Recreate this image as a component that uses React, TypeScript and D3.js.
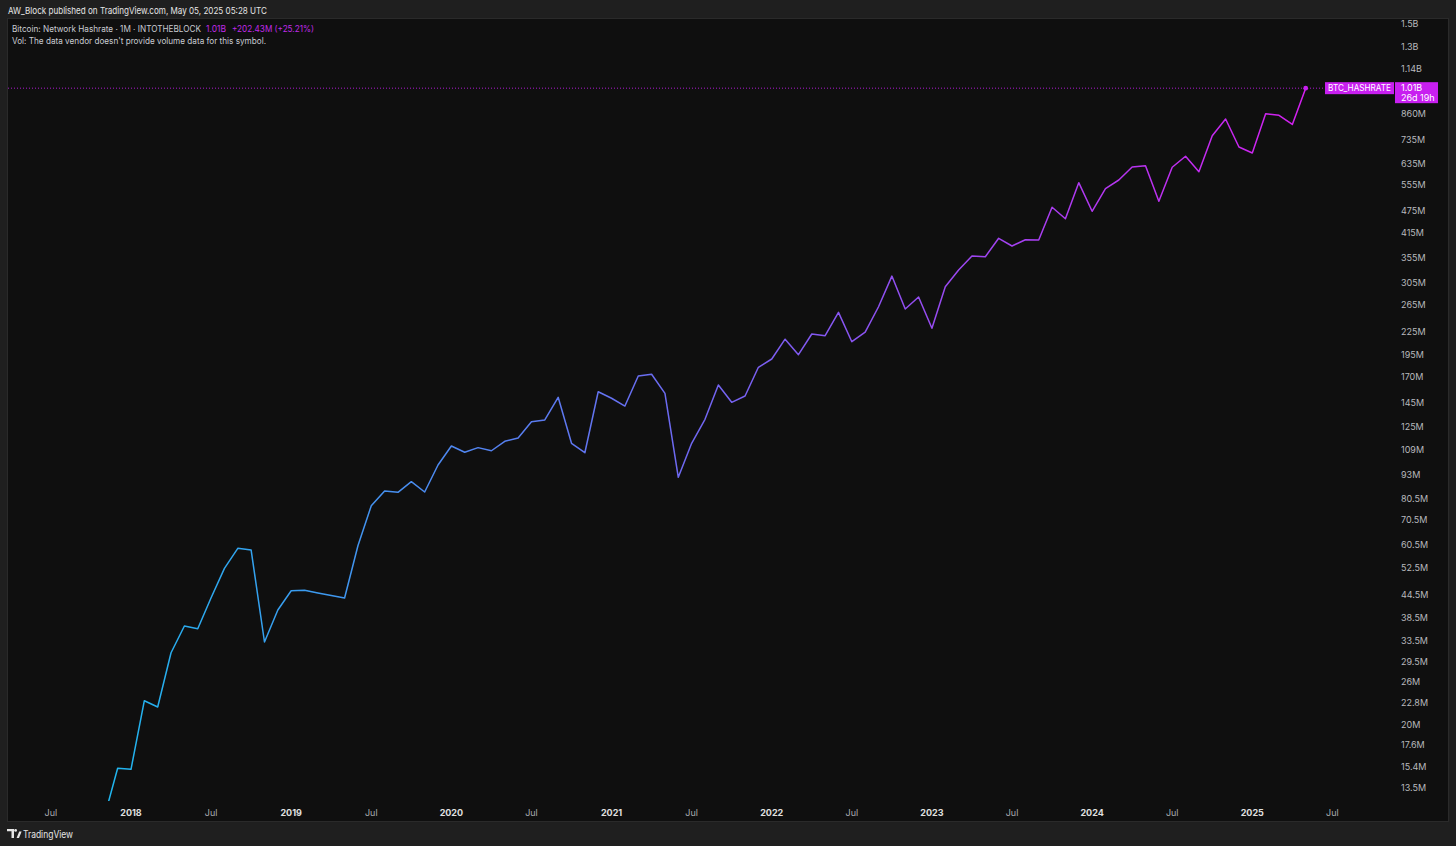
import React from "react";
import * as d3 from "d3";

// ---- Data (monthly BTC network hashrate, in hashes units as displayed: M = million) ----
const startMonth = "2017-11";
const hashrateM: number[] = [
  // 2017 Nov-Dec
  11.3, 15.27,
  // 2018
  15.18, 23.16, 22.28, 31.13, 36.7, 36.1, 43.69, 52.37, 59.24, 58.63, 33.26, 40.5,
  // 2019
  45.62, 45.73, 44.98, 44.3, 43.62, 60.2, 77.04, 84.35, 83.68, 89.33, 83.84, 99.0,
  // 2020
  111.3, 107.1, 110.2, 108.1, 114.6, 116.9, 129.3, 130.7, 150.3, 113.2, 106.8, 155.5,
  // 2021
  149.4, 142.4, 171.3, 173.2, 154.0, 91.78, 113.2, 131.2, 162.1, 145.7, 151.5, 180.8,
  // 2022
  190.3, 215.0, 195.4, 222.0, 219.7, 253.7, 211.7, 224.7, 262.6, 317.2, 258.9, 278.8,
  // 2023
  229.9, 297.1, 329.2, 359.0, 357.4, 400.4, 381.8, 396.9, 396.2, 484.7, 451.8, 564.1,
  // 2024
  472.9, 543.6, 573.5, 621.4, 626.4, 502.9, 620.3, 663.8, 603.7, 753.6, 835.3, 702.9,
  // 2025 Jan-May
  677.3, 863.0, 854.6, 807.57, 1010.0,
];

const yTickLabels = [
  "1.5B", "1.3B", "1.14B", "860M", "735M", "635M", "555M", "475M", "415M", "355M",
  "305M", "265M", "225M", "195M", "170M", "145M", "125M", "109M", "93M", "80.5M",
  "70.5M", "60.5M", "52.5M", "44.5M", "38.5M", "33.5M", "29.5M", "26M", "22.8M",
  "20M", "17.6M", "15.4M", "13.5M",
];
const yTickValuesM = [
  1500, 1300, 1140, 860, 735, 635, 555, 475, 415, 355, 305, 265, 225, 195, 170, 145,
  125, 109, 93, 80.5, 70.5, 60.5, 52.5, 44.5, 38.5, 33.5, 29.5, 26, 22.8, 20, 17.6,
  15.4, 13.5,
];

const xTickMonths = [
  "2017-07", "2018-01", "2018-07", "2019-01", "2019-07", "2020-01", "2020-07",
  "2021-01", "2021-07", "2022-01", "2022-07", "2023-01", "2023-07", "2024-01",
  "2024-07", "2025-01", "2025-07",
];
const xTickLabels = [
  "Jul", "2018", "Jul", "2019", "Jul", "2020", "Jul", "2021", "Jul", "2022", "Jul",
  "2023", "Jul", "2024", "Jul", "2025", "Jul",
];

const seriesName = "BTC_HASHRATE";
const lastLabel = "1.01B";
const countdown = "26d 19h";
const changeText = "+202.43M (+25.21%)";

// ---- Layout ----
const W = 1456;
const H = 846;
const FONT = "Inter, 'Noto Sans', sans-serif";
const pane = { x: 7, y: 18, x2: 1449, y2: 822 };
const plotBottom = 801;

function monthIndex(s: string): number {
  const [y0, m0] = startMonth.split("-").map(Number);
  const [y, m] = s.split("-").map(Number);
  return (y - y0) * 12 + (m - m0);
}

export default function App() {
  const x = d3
    .scaleLinear()
    .domain([monthIndex("2018-01"), monthIndex("2025-01")])
    .range([131, 1252.3]);
  const y = d3.scaleLog().domain([13.5, 1500]).range([788.3, 24]);

  const line = d3
    .line<number>()
    .x((_, i) => x(i))
    .y((d) => y(d));

  const n = hashrateM.length;
  const lastX = x(n - 1);
  const lastY = y(hashrateM[n - 1]);
  const magenta = "#c81ff0";

  return (
    <div style={{ position: "fixed", left: 0, top: 0, width: W, height: H }}>
      <svg width={W} height={H} style={{ display: "block", fontFamily: FONT }}>
        <defs>
          <linearGradient id="lg" gradientUnits="userSpaceOnUse" x1={x(0)} x2={lastX} y1={0} y2={0}>
            <stop offset="0%" stopColor="#1fb6ee" />
            <stop offset="50%" stopColor="#7165f1" />
            <stop offset="100%" stopColor="#d41ff0" />
          </linearGradient>
          <clipPath id="clip">
            <rect x={pane.x} y={pane.y} width={pane.x2 - pane.x} height={plotBottom - pane.y} />
          </clipPath>
        </defs>
        <rect x={0} y={0} width={W} height={H} fill="#1f1f1f" />
        <text x={8} y={14} fontSize={9.4} fill="#e6e6e6" textLength={259} lengthAdjust="spacingAndGlyphs">
          AW_Block published on TradingView.com, May 05, 2025 05:28 UTC
        </text>
        <rect
          x={pane.x + 0.5}
          y={pane.y + 0.5}
          width={pane.x2 - pane.x - 1}
          height={pane.y2 - pane.y - 1}
          fill="#0f0f0f"
          stroke="#2a2a2a"
        />

        {/* legend */}
        <text x={12} y={32} fontSize={8.4} fill="#c9cbd1" textLength={189} lengthAdjust="spacingAndGlyphs">
          Bitcoin: Network Hashrate · 1M · INTOTHEBLOCK
        </text>
        <text x={206} y={32} fontSize={8.4} fill="#c02ae8" textLength={20} lengthAdjust="spacingAndGlyphs">
          {lastLabel}
        </text>
        <text x={232} y={32} fontSize={8.4} fill="#c02ae8" textLength={82} lengthAdjust="spacingAndGlyphs">
          {changeText}
        </text>
        <text x={12} y={44} fontSize={8.4} fill="#c9cbd1" textLength={254} lengthAdjust="spacingAndGlyphs">
          Vol: The data vendor doesn't provide volume data for this symbol.
        </text>

        {/* y axis labels */}
        {yTickValuesM.map((v, i) => (
          <text key={yTickLabels[i]} x={1401} y={y(v)} dy="0.35em" fontSize={9} fill="#b8b9bd">
            {yTickLabels[i]}
          </text>
        ))}

        {/* x axis labels */}
        {xTickMonths.map((m, i) => {
          const isYear = xTickLabels[i] !== "Jul";
          return (
            <text
              key={m}
              x={x(monthIndex(m))}
              y={813}
              dy="0.35em"
              textAnchor="middle"
              fontSize={9}
              fontWeight={isYear ? 700 : 400}
              fill={isYear ? "#e0e0e0" : "#a9abb0"}
            >
              {xTickLabels[i]}
            </text>
          );
        })}

        {/* last value dotted line */}
        <line
          x1={pane.x + 1}
          x2={1323}
          y1={lastY}
          y2={lastY}
          stroke={magenta}
          strokeWidth={1}
          strokeDasharray="1 2"
          opacity={0.85}
        />

        <g clipPath="url(#clip)">
          <path d={line(hashrateM) ?? ""} fill="none" stroke="url(#lg)" strokeWidth={1.5} strokeLinejoin="round" />
        </g>
        <circle cx={lastX} cy={lastY} r={2.4} fill={magenta} />

        {/* series name label */}
        <rect x={1325} y={lastY - 6} width={69} height={12} fill={magenta} />
        <text x={1328} y={lastY} dy="0.35em" fontSize={8.6} fill="#ffffff" textLength={63} lengthAdjust="spacingAndGlyphs">
          {seriesName}
        </text>
        {/* price box */}
        <rect x={1395} y={lastY - 6} width={43} height={21} fill={magenta} />
        <text x={1401} y={lastY} dy="0.35em" fontSize={9} fill="#ffffff">
          {lastLabel}
        </text>
        <text x={1401} y={lastY + 10} dy="0.35em" fontSize={9} fill="#ffffff">
          {countdown}
        </text>

        {/* footer logo */}
        <g transform="translate(7,829)">
          <path d="M0 0 H7 V9 H4.5 V2.2 H0 Z" fill="#e6e6e6" />
          <circle cx={8.6} cy={1.4} r={1.4} fill="#e6e6e6" />
          <path d="M9.6 9 L12.2 2.6 H14.6 L12 9 Z" fill="#e6e6e6" />
        </g>
        <text x={23} y={834} dy="0.35em" fontSize={10} fill="#e6e6e6" textLength={50} lengthAdjust="spacingAndGlyphs">
          TradingView
        </text>
      </svg>
    </div>
  );
}
